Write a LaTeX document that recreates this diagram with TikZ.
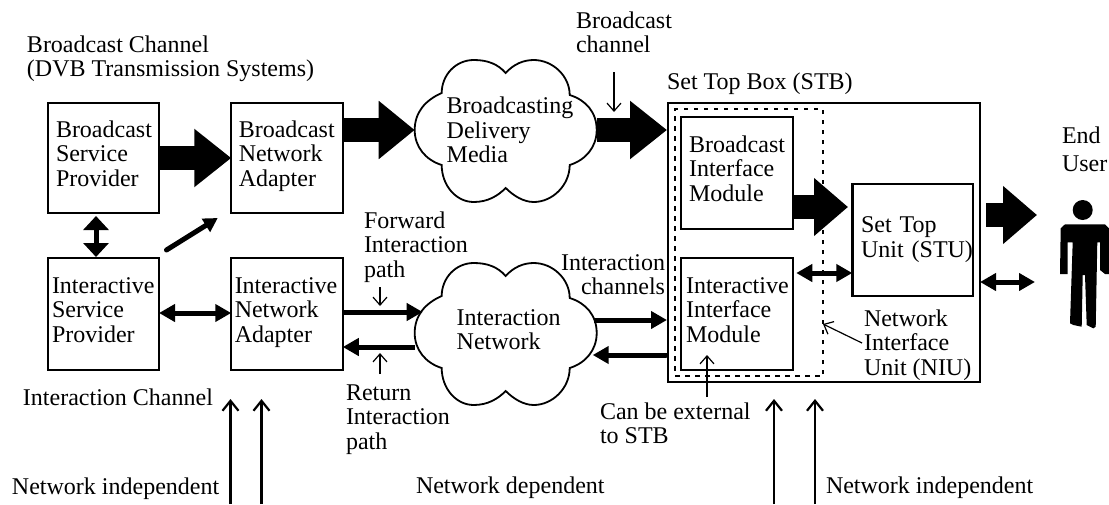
\documentclass[tikz,border=0pt]{standalone}
\usepackage{fontspec}
\setmainfont{Liberation Serif}
\usetikzlibrary{arrows.meta}
\newcommand\deepstrut{\rule[-10.15pt]{0pt}{1pt}}
\newcommand\cloudshape[1]{%
  \draw[cloudline,shift={(#1.center)}]
    (0,-57) .. controls (8,-66) and (18,-70) .. (28,-70)
    .. controls (47,-70) and (64,-54) .. (64,-35)
    .. controls (80,-30) and (91,-18) .. (91,0)
    .. controls (91,17) and (80,30) .. (64,35)
    .. controls (64,55) and (47,72) .. (28,72)
    .. controls (18,72) and (8,66) .. (0,58)
    .. controls (-8,66) and (-18,72) .. (-32,72)
    .. controls (-50,72) and (-64,55) .. (-64,35)
    .. controls (-80,30) and (-91,17) .. (-91,0)
    .. controls (-91,-18) and (-80,-30) .. (-64,-37)
    .. controls (-64,-55) and (-50,-70) .. (-32,-70)
    .. controls (-18,-70) and (-8,-66) .. cycle;}
\tikzset{
  txt/.style={font=\fontsize{24}{24.5}\selectfont,align=left},
  lbl/.style={txt,inner sep=0pt,outer sep=0pt,anchor=north west,yshift=17.15pt},
  lblr/.style={txt,align=right,inner sep=0pt,outer sep=0pt,anchor=north east,yshift=17.15pt},
  blockbox/.style={txt,draw,line width=2.4pt,inner sep=0pt,outer sep=0pt,minimum height=112pt,minimum width=#1,text width=#1},
  stbframe/.style={draw,line width=2.8pt,inner sep=0pt,outer sep=0pt,minimum width=312pt,minimum height=279pt},
  niuframe/.style={draw,line width=2pt,dash pattern=on 4.5pt off 5.5pt,inner sep=0pt,outer sep=0pt,minimum width=148pt,minimum height=267pt},
  cloudnode/.style={txt,inner sep=0pt,outer sep=0pt,minimum width=182pt,minimum height=142pt,text width=182pt},
  cloudline/.style={line width=1.8pt},
  fat/.style={line width=24pt,-{Triangle[length=#1,width=56pt]}},
  fat/.default=35pt,
  med/.style={line width=5pt,line cap=round,-{Triangle[length=16pt,width=17pt]}},
  medboth/.style={line width=5pt,{Triangle[length=16pt,width=17pt]}-{Triangle[length=16pt,width=17pt]}},
  thin/.style={line width=1.2pt,-{Straight Barb[length=8pt,width=14pt]}},
  ruler/.style={line width=2.2pt,-{Straight Barb[length=10pt,width=16pt]}},
}
\begin{document}
\begin{tikzpicture}[x=1pt,y=-1pt]
\useasboundingbox (0,0) rectangle (1109,504);

% frames
\node[stbframe] (stb) at (824,242.5) {};
\node[niuframe] (niu) at (749,242.5) {};

% boxes
\node[blockbox=111pt,minimum height=110pt] (bsp) at (103.5,158) {\leftskip=8pt\strut Broadcast\\\strut Service\\Provider\deepstrut\par};
\node[blockbox=111.5pt,minimum height=110pt] (bna) at (287,158) {\leftskip=7.5pt\strut Broadcast\\\strut Network\\Adapter\deepstrut\par};
\node[blockbox=111pt] (isp) at (103.5,314) {\leftskip=4pt\strut Interactive\\\strut Service\\Provider\deepstrut\par};
\node[blockbox=111.5pt] (ina) at (287,314) {\leftskip=3.5pt\strut Interactive\\\strut Network\\Adapter\deepstrut\par};
\node[blockbox=112.5pt] (bim) at (737,173) {\leftskip=8.3pt\strut Broadcast\\\strut Interface\\Module\deepstrut\par};
\node[blockbox=112.5pt] (iim) at (737,314) {\leftskip=5.3pt\strut Interactive\\\strut Interface\\Module\deepstrut\par};
\node[blockbox=120.4pt] (stu) at (912.5,240) {\leftskip=8.7pt\strut Set Top\\\mbox{Unit (STU)}\strut\par};

% clouds
\node[cloudnode] (cloudb) at (505.7,130) {\leftskip=32pt\rule{0pt}{23.35pt}Broadcasting\\\strut Delivery\\Media\strut\par};
\node[cloudnode] (cloudi) at (505.7,333) {\leftskip=42pt\strut Interaction\\Network\rule[-8.15pt]{0pt}{1pt}\par};
\cloudshape{cloudb}
\cloudshape{cloudi}

% end user figure
\node[inner sep=0pt,outer sep=0pt,minimum width=49pt,minimum height=130pt] (user) at (1084.5,265) {};
\fill (1082.7,210) circle (10pt);
\fill (1060.7,228.3) -- (1065,224.3) -- (1105,224.3) -- (1109,228.3) -- (1109,274) -- (1105,274)
  -- (1100,270) -- (1100,242.3) -- (1097.3,242.3) -- (1095.7,326.7) -- (1093.3,328.3)
  -- (1086.7,325) -- (1085,275) -- (1082.7,275) -- (1081.7,326.7) -- (1073.3,325)
  -- (1070,323.3) -- (1072.7,242.3) -- (1067.7,242.3) -- (1067.7,274) -- (1060,274) -- cycle;

% fat arrows
\draw[fat=37pt] (bsp.east) -- (bna.west);
\draw[fat=36pt] (bna.east |- cloudb.west) -- (cloudb.west);
\draw[fat=37pt] (cloudb.east) -- ([xshift=-1pt]stb.west |- cloudb.east);
\draw[fat=34pt] ([yshift=-34pt]bim.east) -- ([xshift=-4.3pt,yshift=33pt]stu.west);
\draw[fat=34pt] ([xshift=6pt,yshift=27.5pt]stb.east) -- ([xshift=-23pt,yshift=50pt]user.west);

% medium arrows
\draw[medboth,{Triangle[length=14pt,width=25pt]}-{Triangle[length=14pt,width=25pt]}] ([xshift=-7.5pt,yshift=-3pt]bsp.south) -- ([xshift=-7.5pt,yshift=1pt]isp.north);
\draw[medboth] ([yshift=1pt]isp.east) -- ([yshift=1pt]ina.west);
\draw[med,-{Triangle[length=14pt,width=15pt]}] ([xshift=7.5pt,yshift=8pt]isp.north east) -- ([xshift=-13.5pt,yshift=-5pt]bna.south west);
\draw[med,line cap=butt] ([yshift=2pt]ina.east) -- ([xshift=8pt,yshift=21pt]cloudi.west);
\draw[med,line cap=butt] ([yshift=-14pt]cloudi.west) -- ([yshift=-33pt]ina.east);
\draw[med,line cap=butt] ([xshift=-2.7pt,yshift=13pt]cloudi.east) -- ([xshift=-1pt,yshift=-77.5pt]stb.west);
\draw[med] ([xshift=-2pt,yshift=-112.5pt]stb.west) -- ([xshift=-4pt,yshift=-22pt]cloudi.east);
\draw[medboth] ([xshift=3pt,yshift=41pt]iim.east) -- ([yshift=-33pt]stu.west);
\draw[medboth] ([yshift=-39.5pt]stb.east) -- ([xshift=-25pt,yshift=-17pt]user.west);

% labels
\node[lbl] (lbroad) at (27,52) {\strut Broadcast Channel\\(DVB Transmission Systems)};
\node[lbl] (lbc) at (576,28) {\strut Broadcast\\channel};
\node[lbl] (lstb) at (667,89) {\strut Set Top Box (STB)};
\node[lbl,align=left] (luser) at (1062,143) {\strut End\\[3.5pt]User};
\node[lbl] (lfwd) at (364,228) {\strut Forward\\\strut Interaction\\path};
\node[lblr] (lchan) at (665,270) {\strut Interaction\\channels};
\node[lbl] (lniu) at (864,326) {\strut Network\\\strut Interface\\Unit (NIU)};
\node[lbl] (lret) at (346,400) {\strut Return\\\strut Interaction\\path};
\node[lbl] (lext) at (600,419) {\strut Can be external\\to STB};
\node[lbl] (lic) at (23,405) {\strut Interaction Channel};
\node[lbl] (lni1) at (12,494) {\strut Network independent};
\node[lbl] (lnd) at (416,493) {\strut Network dependent};
\node[lbl] (lni2) at (826,493) {\strut Network independent};

% thin pointers
\coordinate (pbc) at (614,72);   \coordinate (qbc) at (614,112);
\coordinate (pfw) at (380,287);  \coordinate (qfw) at (380,306);
\coordinate (prt) at (380,374);  \coordinate (qrt) at (380,353);
\coordinate (pni) at (862,343);  \coordinate (qni) at (823,324);
\coordinate (pex) at (707,397);  \coordinate (qex) at (707,355);
\draw[thin] (pbc) -- (qbc);
\draw[thin] (pfw) -- (qfw);
\draw[thin] (prt) -- (qrt);
\draw[thin] (pni) -- (qni);
\draw[thin] (pex) -- (qex);

% boundary markers
\coordinate (ra0) at (230.5,504); \coordinate (ra1) at (230.5,399);
\coordinate (rb0) at (261.5,504); \coordinate (rb1) at (261.5,399);
\coordinate (rc0) at (774,504);   \coordinate (rc1) at (774,399);
\coordinate (rd0) at (815,504);   \coordinate (rd1) at (815,399);
\draw[ruler] (ra0) -- (ra1);
\draw[ruler] (rb0) -- (rb1);
\draw[ruler] (rc0) -- (rc1);
\draw[ruler] (rd0) -- (rd1);
\end{tikzpicture}
\end{document}
